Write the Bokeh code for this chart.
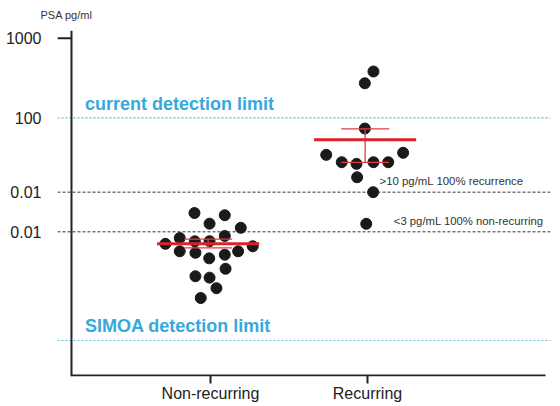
from bokeh.plotting import figure
from bokeh.models import FixedTicker, Span, Label, Range1d
from bokeh.embed import file_html
from bokeh.resources import INLINE

# ---------------- data ----------------
groups = ["Non-recurring", "Recurring"]

nonrec_psa = [6.41, 6.01, 4.71, 4.18, 3.11, 3.30, 2.63, 2.83, 2.84, 2.45,
              2.12, 2.03, 1.92, 2.12, 1.73, 1.28, 1.03, 0.99, 0.73, 0.55]
nonrec_jitter = [-0.102, 0.091, -0.006, 0.193, -0.196, 0.091, -0.287, -0.100, -0.006, 0.269,
                 -0.196, -0.096, 0.091, 0.176, -0.008, 0.096, -0.096, -0.006, 0.038, -0.062]

rec_psa = [382, 272, 73.6, 34.4, 36.5, 27.8, 26.5, 27.8, 27.8, 18.0, 11.7, 4.69]
rec_jitter = [0.038, -0.017, -0.017, -0.263, 0.227, -0.164, -0.070, 0.038, 0.132,
              -0.066, 0.036, -0.008]

group_means = [2.63, 53.1]
group_sem_low = [2.34, 27.6]
group_sem_high = [3.01, 73.0]

ytick_values = [1000, 100, 11.7, 3.72]
ytick_labels = ["1000", "100", "0.01", "0.01"]
y_unit_label = "PSA pg/ml"

current_limit = 100
simoa_limit = 0.161
recurrence_cut = 11.7
nonrecurring_cut = 3.72

# ---------------- layout constants ----------------
X_START, X_END = 0.0255, 3.1656
Y_START, Y_END = 10 ** -1.2447, 10 ** 3.0966
Y_AXIS_X = 0.1146
X_AXIS_END = 3.134
X_AXIS_Y = 10 ** -1.232

FONT = "Liberation Sans"
CYAN_TEXT = "#35a9dd"
CYAN_LINE = "#5cb9dc"
RED = "#dc2128"
RED_THIN = "#e03c44"
INK = "#222222"

p = figure(width=556, height=406,
           x_range=Range1d(X_START, X_END),
           y_range=Range1d(Y_START, Y_END),
           y_axis_type="log",
           output_backend="svg", toolbar_location=None,
           min_border_left=57, min_border_right=6,
           min_border_top=30, min_border_bottom=30)
p.grid.visible = False
p.outline_line_color = None
p.background_fill_color = "white"
p.border_fill_color = "white"

# y unit label as a left-aligned title
p.title.text = y_unit_label
p.title.align = "left"
p.title.vertical_align = "top"
p.title.offset = -17
p.title.standoff = 16
p.title.text_font = FONT
p.title.text_font_size = "11px"
p.title.text_font_style = "normal"
p.title.text_color = "#333333"

ya = p.yaxis[0]
ya.ticker = FixedTicker(ticks=ytick_values, minor_ticks=[])
ya.major_label_overrides = {v: s for v, s in zip(ytick_values, ytick_labels)}
ya.axis_line_color = None
ya.major_tick_line_color = None
ya.minor_tick_line_color = None
ya.major_label_standoff = 10
ya.major_label_text_font = FONT
ya.major_label_text_font_size = "16px"
ya.major_label_text_color = INK

xa = p.xaxis[0]
xa.ticker = FixedTicker(ticks=[1, 2], minor_ticks=[])
xa.major_label_overrides = {i + 1: g for i, g in enumerate(groups)}
xa.axis_line_color = None
xa.major_tick_line_color = INK
xa.major_tick_line_width = 2
xa.major_tick_in = 1
xa.major_tick_out = 7
xa.minor_tick_line_color = None
xa.major_label_standoff = 1
xa.major_label_text_font = FONT
xa.major_label_text_font_size = "16px"
xa.major_label_text_color = INK

for loc in (current_limit, simoa_limit):
    p.add_layout(Span(location=loc, dimension="width", line_color=CYAN_LINE,
                      line_width=1.2, line_dash="2 2", level="underlay"))
for loc in (recurrence_cut, nonrecurring_cut):
    p.add_layout(Span(location=loc, dimension="width", line_color="#333333",
                      line_width=1, line_dash="3 2", level="underlay"))

p.add_layout(Span(location=Y_AXIS_X, dimension="height", line_color=INK, line_width=2))
p.segment(x0=[Y_AXIS_X], y0=[X_AXIS_Y], x1=[X_AXIS_END], y1=[X_AXIS_Y],
          line_color=INK, line_width=2)
p.segment(x0=[X_START], y0=[ytick_values[0]], x1=[Y_AXIS_X], y1=[ytick_values[0]],
          line_color=INK, line_width=2)

p.scatter([1 + j for j in nonrec_jitter], nonrec_psa, size=11,
          fill_color="#1a1a1a", line_color="#1a1a1a")
p.scatter([2 + j for j in rec_jitter], rec_psa, size=11,
          fill_color="#1a1a1a", line_color="#1a1a1a")

for i in range(len(groups)):
    c = i + 1 - 0.015
    p.segment(x0=[c - 0.153, c - 0.153, c], y0=[group_sem_low[i], group_sem_high[i], group_sem_low[i]],
              x1=[c + 0.153, c + 0.153, c], y1=[group_sem_low[i], group_sem_high[i], group_sem_high[i]],
              line_color=RED_THIN, line_width=1.3)
    p.segment(x0=[c - 0.325], y0=[group_means[i]], x1=[c + 0.325], y1=[group_means[i]],
              line_color=RED, line_width=3)

p.add_layout(Label(x=0.2, y=current_limit, y_offset=14, text="current detection limit",
                   text_font=FONT, text_font_size="18px", text_font_style="bold",
                   text_color=CYAN_TEXT, text_baseline="alphabetic"))
p.add_layout(Label(x=0.2, y=simoa_limit, y_offset=15, text="SIMOA detection limit",
                   text_font=FONT, text_font_size="18px", text_font_style="bold",
                   text_color=CYAN_TEXT, text_baseline="alphabetic"))
p.add_layout(Label(x=2.0764, y=recurrence_cut, y_offset=11, text=">10 pg/mL 100% recurrence",
                   text_font=FONT, text_font_size="11.4px",
                   text_color="#333333", text_baseline="alphabetic"))
p.add_layout(Label(x=2.1675, y=nonrecurring_cut, y_offset=11, text="<3 pg/mL 100% non-recurring",
                   text_font=FONT, text_font_size="11.3px",
                   text_color="#333333", text_baseline="alphabetic"))

open("out.html", "w").write(file_html(p, INLINE))
